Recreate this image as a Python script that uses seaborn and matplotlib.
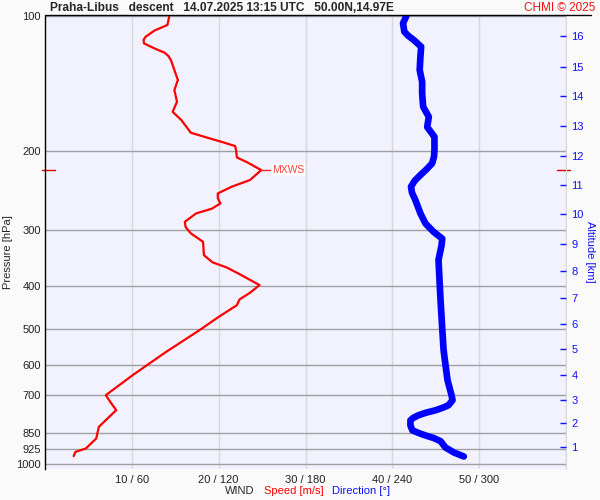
import numpy as np
import pandas as pd
import seaborn as sns
import matplotlib.pyplot as plt
from matplotlib.lines import Line2D
from matplotlib.transforms import blended_transform_factory

# wind speed profile (pressure hPa, speed m/s)
speed_p = [100.4, 104.7, 107.8, 111.2, 113.0, 115.1, 118.1, 120.8, 122.8, 125.4,
           132.0, 138.9, 146.3, 155.4, 163.6, 170.7, 182.2, 186.6, 190.8, 195.1,
           199.1, 206.8, 212.6, 220.7, 232.3, 240.4, 248.8, 255.0, 261.9, 269.2,
           275.7, 287.9, 296.0, 305.5, 319.0, 341.6, 354.6, 363.8, 376.6, 398.5,
           414.6, 429.0, 441.7, 470.6, 502.2, 561.5, 632.8, 701.5, 730.0, 757.7,
           790.7, 825.5, 876.3, 922.6, 938.9, 959.6]
speed = [14.3, 14.1, 12.6, 11.6, 11.35, 11.4, 12.6, 13.8, 14.2, 14.5,
         14.9, 15.3, 14.9, 15.2, 14.7, 15.7, 16.8, 18.6, 20.3, 21.9,
         22.0, 22.1, 23.4, 24.9, 23.6, 21.5, 19.9, 19.9, 20.2, 19.2,
         17.4, 16.1, 16.2, 16.8, 18.2, 18.3, 19.3, 20.9, 22.4, 24.7,
         23.6, 22.4, 22.1, 19.9, 17.8, 13.95, 10.1, 7.0, 7.6, 8.2,
         7.2, 6.2, 5.9, 4.7, 3.5, 3.3]

# wind direction profile (pressure hPa, direction deg)
dir_p = [100, 103.8, 108.4, 110.7, 113.1, 117.1, 123.2, 132.0, 140.2, 148.8,
         159.4, 167.9, 176.9, 186.1, 199.1, 206.0, 213.2, 220.0, 226.4, 233.0,
         240.4, 248.0, 257.4, 275.7, 290.4, 303.3, 313.9, 325.0, 350.1, 430.6,
         556.1, 648.7, 701.5, 719.8, 738.7, 748.0, 758.1, 768.0, 777.9, 788.0,
         798.4, 819.3, 840.8, 854.9, 864.0, 873.8, 888.3, 917.7, 941.4, 961.1]
direction = [249.7, 247.4, 248.3, 251.0, 254.8, 259.9, 259.4, 258.9, 260.6, 260.6,
             261.3, 265.2, 264.1, 269.1, 269.1, 268.8, 267.5, 263.5, 259.4, 255.5,
             252.9, 253.6, 255.9, 259.4, 262.9, 268.6, 274.5, 274.0, 271.9, 273.3,
             275.4, 278.1, 280.9, 281.6, 278.8, 275.0, 269.8, 263.0, 258.0, 254.5,
             252.5, 252.5, 253.9, 259.4, 263.5, 268.4, 273.3, 276.7, 282.5, 289.4]

p_ticks = [100, 200, 300, 400, 500, 600, 700, 850, 925, 1000]
x_ticks = [10, 20, 30, 40, 50, 60]
x_labels = ['10 / 60', '20 / 120', '30 / 180', '40 / 240', '50 / 300', '']
alt_km = list(range(1, 17))
alt_p = [915, 811, 720, 634, 554, 486, 425, 370, 322, 277, 238, 205, 176, 151, 130, 111]

sns.set_style('white')
plt.rcParams['font.family'] = ['Liberation Sans', 'DejaVu Sans']

df_s = pd.DataFrame({'p': speed_p, 'v': speed})
df_d = pd.DataFrame({'p': dir_p, 'v': np.array(direction) / 6.0})

fig = plt.figure(figsize=(6, 5), dpi=100, facecolor='#fafafa')
ax = fig.add_axes([45 / 600, 31 / 500, 521 / 600, 453 / 500])
ax.set_facecolor('#f2f2fe')

sns.lineplot(data=df_d, x='v', y='p', orient='y', sort=False, estimator=None,
             color='#0000ff', linewidth=4.8, ax=ax, zorder=3,
             solid_capstyle='round', solid_joinstyle='round')
sns.lineplot(data=df_s, x='v', y='p', orient='y', sort=False, estimator=None,
             color='#ff0000', linewidth=1.6, ax=ax, zorder=4,
             solid_joinstyle='round')

ax.set_yscale('log')
ax.set_ylim(1025, 100)
ax.set_xlim(0, 60)
ax.set_yticks(p_ticks)
ax.set_yticklabels([str(p) for p in p_ticks])
ax.minorticks_off()
ax.set_xticks(x_ticks)
ax.set_xticklabels(x_labels)
ax.tick_params(axis='both', length=0, labelsize=8, colors='#222222')
ax.tick_params(axis='y', pad=3)
ax.tick_params(axis='x', pad=4)
ax.set_xlabel('')
ax.set_ylabel('')
ax.yaxis.grid(True, color='#a0a0a0', linewidth=1)
ax.xaxis.grid(True, color='#d8d8d8', linewidth=1)
ax.set_axisbelow(True)
for s in ['top', 'bottom']:
    ax.spines[s].set_visible(False)
ax.spines['left'].set_color('black')
ax.spines['left'].set_linewidth(1)
ax.spines['right'].set_color('#d8d8d8')

# altitude axis
ax2 = ax.twinx()
ax2.set_yscale('log')
ax2.set_ylim(1025, 100)
ax2.set_yticks(alt_p)
ax2.set_yticklabels([str(a) for a in alt_km])
ax2.minorticks_off()
ax2.tick_params(axis='y', direction='in', length=4, width=1, colors='#1010ff',
                labelsize=8, pad=4)
for s in ax2.spines.values():
    s.set_visible(False)

# max wind marker
i_max = int(np.argmax(speed))
p_max, s_max = speed_p[i_max], speed[i_max]
tr = blended_transform_factory(ax.transAxes, ax.transData)
ax.plot([-0.006, 0.019], [p_max, p_max], color='#dd0000', lw=1, transform=tr, clip_on=False)
ax.plot([0.983, 1.008], [p_max, p_max], color='#dd0000', lw=1, transform=tr, clip_on=False)
ax.plot([s_max, s_max + 1.0], [p_max, p_max], color='#ff2020', lw=1, zorder=5)
ax.text(s_max + 1.3, p_max, 'MXWS', color='#ff4040', fontsize=7.5, va='center',
        bbox=dict(facecolor='white', edgecolor='none', pad=0.5), zorder=5)

# top line
fig.add_artist(Line2D([45 / 600, 591 / 600], [1 - 15 / 500, 1 - 15 / 500],
                      color='black', lw=1))

fig.text(50 / 600, 1 - 8 / 500,
         'Praha-Libus   descent   14.07.2025 13:15 UTC   50.00N,14.97E',
         fontsize=8.6, fontweight='bold', va='center', ha='left')
fig.text(595 / 600, 1 - 8 / 500, 'CHMI \u00a9 2025', color='#ee1111',
         fontsize=8.5, va='center', ha='right')
fig.text(8 / 600, 1 - 252 / 500, 'Pressure [hPa]', rotation=90, fontsize=8,
         va='center', ha='center')
fig.text(590 / 600, 1 - 252 / 500, 'Altitude [km]', rotation=270, fontsize=8,
         va='center', ha='center', color='#1010ff')
fig.text(225 / 600, 1 - 491 / 500, 'WIND', fontsize=8, va='center', ha='left')
fig.text(264 / 600, 1 - 491 / 500, 'Speed [m/s]', fontsize=8, va='center',
         ha='left', color='#ff0000')
fig.text(332 / 600, 1 - 491 / 500, 'Direction [\u00b0]', fontsize=8, va='center',
         ha='left', color='#1010ff')

fig.savefig('out.png', dpi=100, facecolor=fig.get_facecolor())
